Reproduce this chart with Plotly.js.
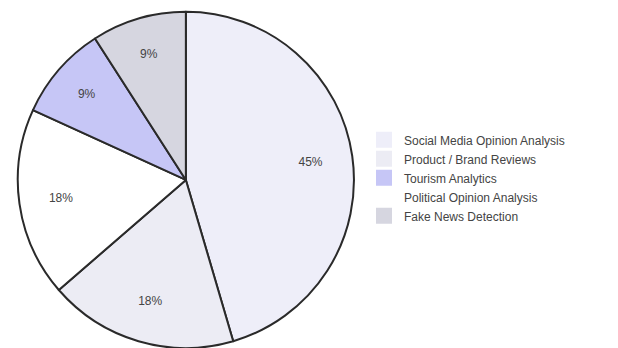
<!DOCTYPE html>
<html><head><meta charset="utf-8">
<script src="https://cdn.plot.ly/plotly-3.0.1.min.js"></script>
<style>html,body{margin:0;padding:0;background:#fff;}#chart{width:618px;height:348px;}</style>
</head><body><div id="chart"></div>
<script>
const categories = ["Social Media Opinion Analysis","Product / Brand Reviews","Tourism Analytics","Political Opinion Analysis","Fake News Detection"];
const counts = [5, 2, 1, 2, 1];
const colors = ["#eeeef9","#ececf4","#c6c6f6","#ffffff","#d6d6e0"];
const font = {family: "Liberation Sans, Arial, sans-serif", size: 12, color: "#444"};
const dom = {x: [0.0275, 0.574], y: [0, 0.966]};

const traces = [{
  type: "pie", labels: categories, values: counts, sort: true,
  direction: "clockwise", rotation: 0,
  marker: {colors: colors, line: {color: "#2a2a2a", width: 2}},
  textinfo: "none", domain: dom, hoverinfo: "none", showlegend: false
}, {
  type: "pie", labels: categories, values: counts, sort: true,
  direction: "clockwise", rotation: 0, hole: 0.5,
  marker: {colors: categories.map(() => "rgba(0,0,0,0)"), line: {width: 0}},
  texttemplate: "%{percent:.0%}", textposition: "inside",
  insidetextorientation: "horizontal", textfont: font,
  domain: dom, hoverinfo: "none", showlegend: false
}];
categories.forEach((c, i) => traces.push({
  type: "scatter", mode: "markers", x: [null], y: [null], name: c,
  marker: {symbol: "square", size: 18, color: colors[i], line: {width: 0}},
  hoverinfo: "none"
}));

Plotly.newPlot("chart", traces, {
  width: 618, height: 348,
  margin: {l: 0, r: 0, t: 0, b: 0},
  paper_bgcolor: "#fff", plot_bgcolor: "rgba(0,0,0,0)",
  xaxis: {visible: false}, yaxis: {visible: false},
  showlegend: true,
  legend: {x: 0.589, y: 0.489, xanchor: "left", yanchor: "middle",
    font: font, traceorder: "normal", itemwidth: 30}
}, {displayModeBar: false, staticPlot: true});
</script></body></html>
